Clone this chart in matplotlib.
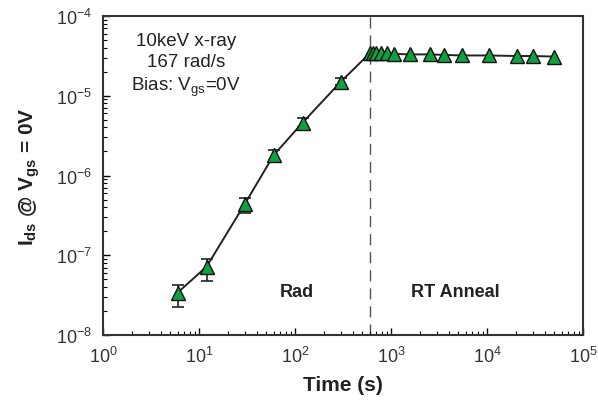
import numpy as np
import matplotlib.pyplot as plt

plt.rcParams["font.family"] = ["Liberation Sans", "DejaVu Sans"]
plt.rcParams["mathtext.fontset"] = "custom"
plt.rcParams["mathtext.rm"] = "Liberation Sans"
plt.rcParams["mathtext.bf"] = "Liberation Sans:bold"

# irradiation phase
rad_time = [6, 12, 30, 60, 120, 300]
rad_ids = [3.4e-8, 7.2e-8, 4.4e-7, 1.8e-6, 4.6e-6, 1.5e-5]
rad_lo = [2.25e-8, 4.8e-8, 3.4e-7, 1.5e-6, 4.0e-6, 1.35e-5]
rad_hi = [4.2e-8, 9.1e-8, 5.2e-7, 2.1e-6, 5.2e-6, 1.65e-5]

# room temperature anneal
ann_time = [600, 650, 700, 780, 900, 1070, 1580, 2550, 3570, 5500,
            10500, 20500, 30000, 50000]
ann_ids = [3.4e-5, 3.4e-5, 3.4e-5, 3.4e-5, 3.4e-5, 3.35e-5, 3.3e-5, 3.3e-5,
           3.25e-5, 3.2e-5, 3.2e-5, 3.15e-5, 3.15e-5, 3.1e-5]

t_switch = 600

fig = plt.figure(figsize=(5.98, 4.02), dpi=100)
ax = fig.add_axes([103 / 598, 1 - 336 / 402, 480 / 598, 319 / 402])

time = rad_time + ann_time
ids = rad_ids + ann_ids
ax.plot(time, ids, color="#222222", lw=1.4, zorder=2)

err = [np.array(rad_ids) - np.array(rad_lo), np.array(rad_hi) - np.array(rad_ids)]
ax.errorbar(rad_time, rad_ids, yerr=err, fmt="none", ecolor="#222222",
            elinewidth=1.2, capsize=4, capthick=1.2, zorder=3)
ax.plot(time, ids, ls="none", marker="^", ms=9.5, mfc="#10a040", mec="#111111",
        mew=1.0, zorder=4)

ax.axvline(t_switch, color="#555555", lw=1, ls=(0, (8, 5)), zorder=1)

ax.set_xscale("log")
ax.set_yscale("log")
ax.set_xlim(1, 1e5)
ax.set_ylim(1e-8, 1e-4)

ax.tick_params(which="both", direction="in", top=False, right=False,
               labelsize=13, pad=8, labelcolor="#333333")
ax.tick_params(which="major", length=5, width=1)
ax.tick_params(which="minor", length=3, width=0.8)
for s in ax.spines.values():
    s.set_linewidth(1.5)
    s.set_color("#333333")

ax.set_xlabel("Time (s)", fontsize=15, fontweight="bold", labelpad=6,
              color="#222222")
ax.set_ylabel(r"$\mathbf{I_{ds}}$ @ $\mathbf{V_{gs}}$ = 0V", fontsize=15,
              fontweight="bold", labelpad=10, color="#222222")

ax.text(0.173, 0.95, "10keV x-ray\n167 rad/s\nBias: V$_{\\mathrm{gs}}$=0V",
        transform=ax.transAxes, ha="center", va="top", fontsize=13.5,
        linespacing=1.3, color="#222222")
ax.text(105, 3.5e-8, "Rad", ha="center", va="center", fontsize=13,
        fontweight="bold", color="#222222")
ax.text(4700, 3.5e-8, "RT Anneal", ha="center", va="center", fontsize=13,
        fontweight="bold", color="#222222")

plt.savefig("out.png", dpi=100)
